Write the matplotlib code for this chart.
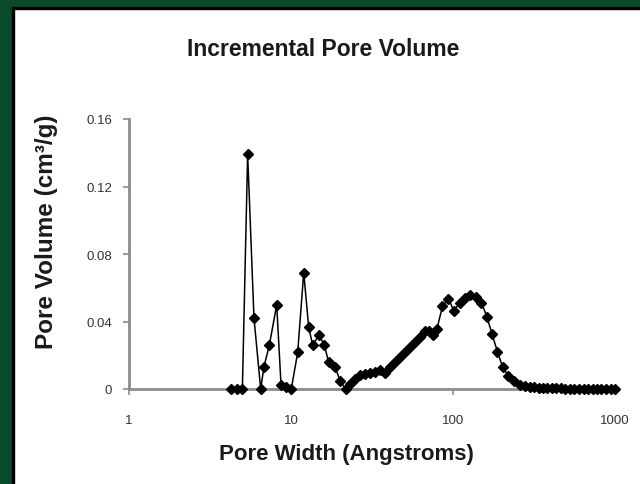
import matplotlib.pyplot as plt
from matplotlib.patches import Rectangle

# Pore width (Angstroms) and incremental pore volume (cm3/g)
pore_width = [
    4.26, 4.62, 5.01, 5.40, 5.91, 6.50, 6.81, 7.35, 8.16, 8.68, 9.31, 10.04,
    11.0, 11.98, 12.86, 13.61, 14.89, 16.05, 17.09, 18.69, 20.07, 21.77,
    23.13, 24.85, 26.67, 28.63, 30.73, 33.0, 35.43, 38.04, 40.84, 43.85,
    47.08, 50.54, 54.27, 58.27, 62.56, 67.17, 71.1, 75.2, 79.6, 86.1, 93.8,
    101.4, 109.7, 118.6, 128.2, 138.7, 149.9, 162.2, 174.1, 188.2, 202.1,
    218.6, 238.0, 259.2, 278.3, 296.7, 316.2, 337.2, 359.3, 383.1, 408.4,
    435.4, 464.2, 494.8, 527.5, 562.3, 599.5, 639.1, 681.3, 726.3, 774.3,
    825.4, 879.9, 938.1, 1000.0,
]
pore_volume = [
    0.0, 0.0, 0.0, 0.139, 0.0419, 0.0, 0.0132, 0.026, 0.0498, 0.0024, 0.001, 0.0,
    0.0217, 0.069, 0.0366, 0.026, 0.032, 0.026, 0.0158, 0.0132, 0.0049, 0.0,
    0.003, 0.006, 0.0085, 0.009, 0.0095, 0.0102, 0.011, 0.0095, 0.0128, 0.0158,
    0.0188, 0.0217, 0.0247, 0.0276, 0.031, 0.0345, 0.0345, 0.0318, 0.0356, 0.049, 0.0535,
    0.0462, 0.0512, 0.054, 0.0558, 0.0545, 0.0512, 0.0425, 0.0326, 0.022, 0.0133,
    0.0079, 0.0045, 0.0025, 0.0015, 0.0012, 0.001, 0.0008, 0.0006, 0.0005, 0.0004,
    0.0003, 0.0003, 0.0002, 0.0002, 0.0002, 0.0001, 0.0001, 0.0001, 0.0001, 0.0001,
    0.0001, 0.0001, 0.0001, 0.0001,
]
y_ticks = [0, 0.04, 0.08, 0.12, 0.16]
y_tick_labels = ["0", "0.04", "0.08", "0.12", "0.16"]
x_ticks = [1, 10, 100, 1000]
x_tick_labels = ["1", "10", "100", "1000"]

plt.rcParams["font.family"] = ["Liberation Sans", "DejaVu Sans"]

fig = plt.figure(figsize=(6.4, 4.85), dpi=100)

# green frame on the left and top, with a thin black inner edge
green = "#0b4a2b"
fig.patches.append(Rectangle((0, 0), 12 / 640, 1, transform=fig.transFigure,
                             color=green, zorder=-2))
fig.patches.append(Rectangle((0, 1 - 8 / 485), 1, 8 / 485, transform=fig.transFigure,
                             color=green, zorder=-2))
fig.patches.append(Rectangle((12 / 640, 0), 2 / 640, 1 - 8 / 485, transform=fig.transFigure,
                             color="black", zorder=-1))
fig.patches.append(Rectangle((12 / 640, 1 - 10 / 485), 1, 2 / 485, transform=fig.transFigure,
                             color="black", zorder=-1))

ax = fig.add_axes([129 / 640, 1 - 390 / 485, (615 - 129) / 640, (390 - 120) / 485])

ax.plot(pore_width, pore_volume, color="black", linewidth=1.1,
        marker="D", markersize=5.5, markerfacecolor="black", markeredgecolor="black",
        clip_on=False, zorder=3)

ax.set_xscale("log")
ax.set_xlim(1, 1000)
ax.set_ylim(0, 0.16)
ax.set_xticks(x_ticks)
ax.set_xticklabels(x_tick_labels)
ax.xaxis.set_minor_locator(plt.NullLocator())
ax.set_yticks(y_ticks)
ax.set_yticklabels(y_tick_labels)

for side in ["top", "right"]:
    ax.spines[side].set_visible(False)
for side in ["left", "bottom"]:
    ax.spines[side].set_color("#8c8c8c")
    ax.spines[side].set_linewidth(2)

ax.tick_params(axis="both", colors="#8c8c8c", labelcolor="#333333",
               labelsize=9.5, length=4, width=1.2, direction="out")
ax.tick_params(axis="x", pad=14)
ax.tick_params(axis="y", pad=8)

fig.text(323 / 640, 1 - 50 / 485, "Incremental Pore Volume", ha="center", va="center",
         fontsize=16.5, fontweight="bold", color="#1a1a1a")
fig.text(346 / 640, 1 - 455 / 485, "Pore Width (Angstroms)", ha="center", va="center",
         fontsize=16, fontweight="bold", color="#1a1a1a")
fig.text(47 / 640, 1 - 232 / 485, "Pore Volume (cm³/g)", ha="center", va="center",
         rotation=90, fontsize=17.5, fontweight="bold", color="#1a1a1a")

fig.savefig("out.png", dpi=100)
